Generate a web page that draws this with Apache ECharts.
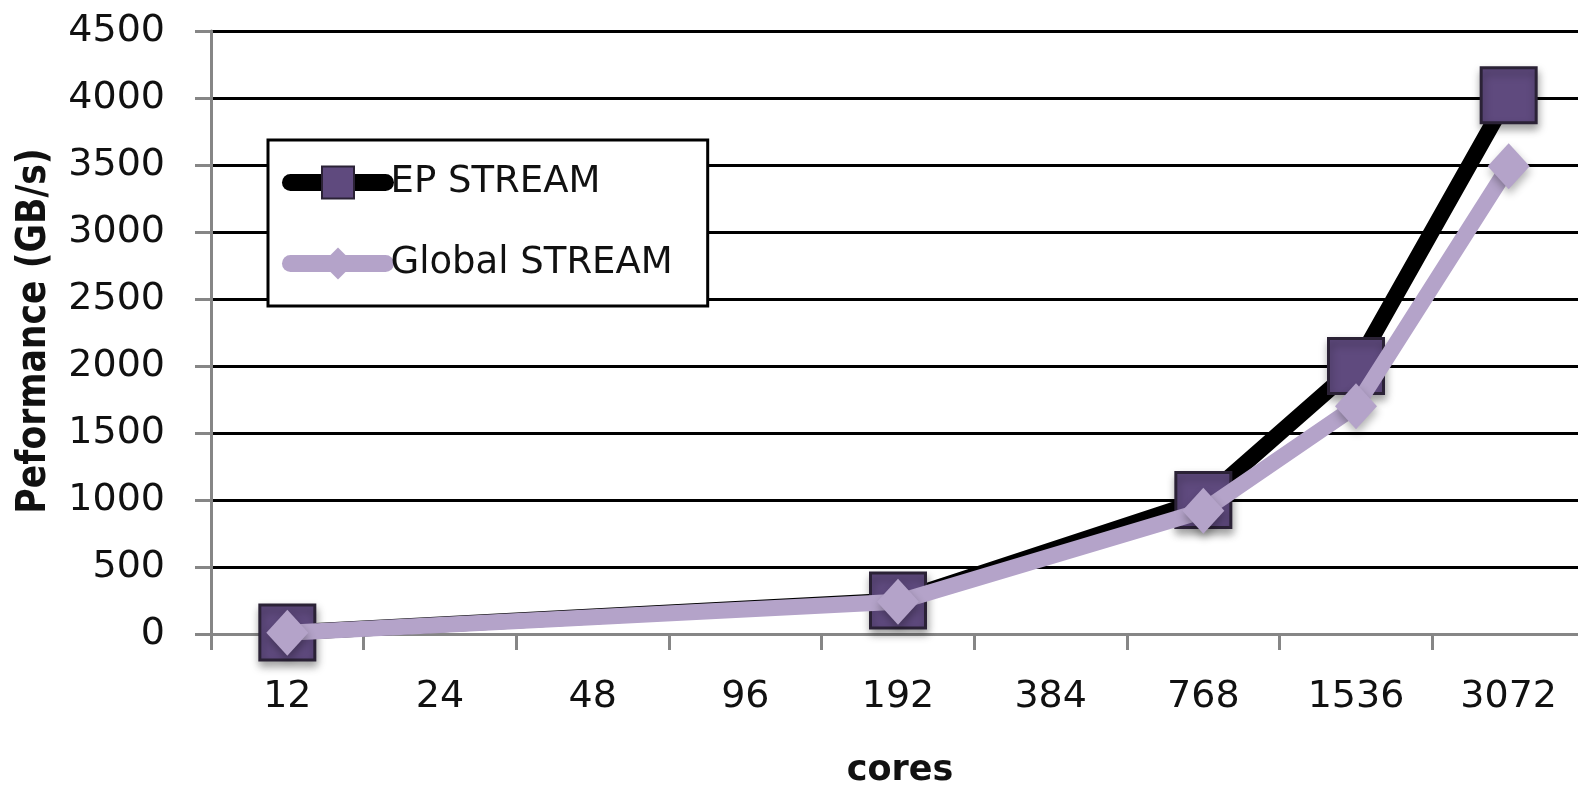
<!DOCTYPE html>
<html>
<head>
<meta charset="utf-8">
<title>STREAM bandwidth scaling</title>
<script src="https://cdn.jsdelivr.net/npm/echarts@6/dist/echarts.min.js"></script>
<style>
  html, body { margin: 0; padding: 0; background: #ffffff; }
  #chart { width: 1578px; height: 785px; }
</style>
</head>
<body>
<div id="chart"></div>
<script>
// Core counts along the x axis
const cores = ['12', '24', '48', '96', '192', '384', '768', '1536', '3072'];
// Measured bandwidth in GB/s (null where no run was made)
const epStream = [12, null, null, null, 250, null, 1000, 2000, 4020];
const globalStream = [10, null, null, null, 240, null, 920, 1700, 3490];
// Value axis range
const yMin = 0;
const yMax = 4500;
const yStep = 500;

const FONT = 'DejaVu Sans';
const AXIS_GREY = '#868686';
const EP_FILL = '#5f4a7e';
const EP_EDGE = '#2b2236';
const GLOBAL_COLOR = '#b4a3c9';

const chart = echarts.init(document.getElementById('chart'), null, { renderer: 'canvas' });

chart.setOption({
  backgroundColor: '#ffffff',
  animation: false,
  grid: {
    left: 211,
    top: 31,
    right: -7,
    bottom: 151,
    outerBoundsMode: 'none',
    containLabel: false
  },
  legend: {
    orient: 'vertical',
    left: 268,
    top: 140,
    padding: [24, 35, 24, 14],
    itemWidth: 95,
    itemHeight: 40,
    itemGap: 44,
    backgroundColor: '#ffffff',
    borderColor: '#000000',
    borderWidth: 3,
    borderRadius: 0,
    textStyle: { fontFamily: FONT, fontSize: 37, color: '#111111' },
    lineStyle: { width: 17, cap: 'round' },
    itemStyle: { shadowBlur: 0, shadowOffsetX: 0, shadowOffsetY: 0, shadowColor: 'rgba(0,0,0,0)' },
    data: ['EP STREAM', 'Global STREAM']
  },
  xAxis: {
    type: 'category',
    data: cores,
    boundaryGap: true,
    axisLine: { show: true, lineStyle: { color: AXIS_GREY, width: 3 } },
    axisTick: { show: true, alignWithLabel: false, length: 16, lineStyle: { color: AXIS_GREY, width: 3 } },
    axisLabel: { interval: 0, margin: 44, fontFamily: FONT, fontSize: 38, color: '#111111' },
    splitLine: { show: false }
  },
  yAxis: {
    type: 'value',
    min: yMin,
    max: yMax,
    interval: yStep,
    axisLine: { show: true, lineStyle: { color: AXIS_GREY, width: 3 } },
    axisTick: { show: true, length: 16, lineStyle: { color: AXIS_GREY, width: 3 } },
    axisLabel: {
      margin: 46,
      fontFamily: FONT,
      fontSize: 38,
      color: '#111111',
      formatter: (v) => String(v)
    },
    splitLine: { show: true, showMinLine: false, lineStyle: { color: '#000000', width: 3 } }
  },
  graphic: [
    {
      type: 'text',
      x: 34,
      y: 331,
      rotation: Math.PI / 2,
      scaleX: 1,
      scaleY: 1.2,
      style: {
        text: 'Peformance (GB/s)',
        fontFamily: FONT,
        fontWeight: 'bold',
        fontSize: 34.7,
        fill: '#111111',
        align: 'center',
        verticalAlign: 'middle'
      }
    },
    {
      type: 'text',
      x: 900,
      y: 771,
      style: {
        text: 'cores',
        fontFamily: FONT,
        fontWeight: 'bold',
        fontSize: 35,
        fill: '#111111',
        align: 'center',
        verticalAlign: 'middle'
      }
    }
  ],
  series: [
    {
      name: 'EP STREAM',
      type: 'line',
      data: epStream,
      connectNulls: true,
      symbol: 'rect',
      symbolSize: 55,
      lineStyle: { color: '#000000', width: 16, join: 'round' },
      itemStyle: {
        color: EP_FILL,
        borderColor: EP_EDGE,
        borderWidth: 3,
        shadowColor: 'rgba(0,0,0,0.35)',
        shadowBlur: 8,
        shadowOffsetX: 1,
        shadowOffsetY: 5
      },
      emphasis: { disabled: true },
      z: 2
    },
    {
      name: 'Global STREAM',
      type: 'line',
      data: globalStream,
      connectNulls: true,
      symbol: 'diamond',
      symbolSize: [42, 46],
      lineStyle: { color: GLOBAL_COLOR, width: 16, join: 'round' },
      itemStyle: {
        color: GLOBAL_COLOR,
        borderWidth: 0,
        shadowColor: 'rgba(0,0,0,0.3)',
        shadowBlur: 8,
        shadowOffsetX: 1,
        shadowOffsetY: 5
      },
      emphasis: { disabled: true },
      z: 3
    }
  ]
});
</script>
</body>
</html>
